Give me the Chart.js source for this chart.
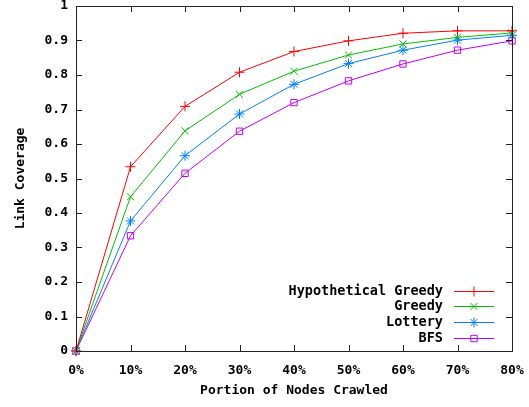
<!DOCTYPE html>
<html>
<head>
<meta charset="utf-8">
<script src="https://cdn.jsdelivr.net/npm/chart.js@4.4.0/dist/chart.umd.min.js"></script>
<style>
html,body{margin:0;padding:0;background:#fff;}
#wrap{width:529px;height:407px;position:relative;}
</style>
</head>
<body>
<div id="wrap"><canvas id="c" width="529" height="407"></canvas></div>
<script>
const categories = ["0%","10%","20%","30%","40%","50%","60%","70%","80%"];
const hypotheticalGreedy = [0, 0.534, 0.709, 0.808, 0.868, 0.899, 0.921, 0.928, 0.928];
const greedy = [0, 0.447, 0.638, 0.744, 0.811, 0.858, 0.890, 0.909, 0.922];
const lottery = [0, 0.377, 0.566, 0.687, 0.773, 0.833, 0.872, 0.901, 0.915];
const bfs = [0, 0.334, 0.515, 0.637, 0.720, 0.783, 0.832, 0.872, 0.899];
const seriesNames = ["Hypothetical Greedy","Greedy","Lottery","BFS"];
const yTitle = "Link Coverage";
const xTitle = "Portion of Nodes Crawled";

const FONT = '"DejaVu Sans Mono", "Liberation Mono", monospace';
const colors = ["#ff0000","#00c000","#0080ff","#c000ff"];
const pstyles = ["cross","crossRot","star","rect"];
const radii = [5,5,5,4.5];
const seriesData = [hypotheticalGreedy, greedy, lottery, bfs];

const datasets = seriesData.map((d,i)=>({
  label: seriesNames[i],
  data: d,
  borderColor: colors[i],
  backgroundColor: 'rgba(0,0,0,0)',
  borderWidth: 1,
  pointStyle: pstyles[i],
  pointRadius: radii[i],
  pointBorderColor: colors[i],
  pointBackgroundColor: 'rgba(0,0,0,0)',
  pointBorderWidth: 1,
  tension: 0,
  clip: false
}));

const frame = {
  id: 'frame',
  afterDraw(chart){
    const ctx = chart.ctx, a = chart.chartArea;
    const xs = chart.scales.x, ys = chart.scales.y;
    ctx.save();
    ctx.strokeStyle = '#222';
    ctx.lineWidth = 1;
    ctx.beginPath();
    for (let i=0;i<categories.length;i++){
      const x = Math.round(xs.getPixelForValue(i))+0.5;
      ctx.moveTo(x, a.bottom); ctx.lineTo(x, a.bottom-6);
      ctx.moveTo(x, a.top); ctx.lineTo(x, a.top+6);
    }
    ys.ticks.forEach(t=>{
      const y = Math.round(ys.getPixelForValue(t.value))+0.5;
      ctx.moveTo(a.left, y); ctx.lineTo(a.left+6, y);
      ctx.moveTo(a.right, y); ctx.lineTo(a.right-6, y);
    });
    ctx.stroke();
    ctx.strokeRect(Math.round(a.left)+0.5, Math.round(a.top)+0.5, Math.round(a.right-a.left), Math.round(a.bottom-a.top));
    const offs = [60, 45, 29, 13];
    ctx.font = 'bold 13.5px ' + FONT;
    ctx.textAlign = 'right';
    ctx.textBaseline = 'middle';
    chart.data.datasets.forEach((ds,i)=>{
      const y = Math.round(a.bottom - offs[i]) + 0.5;
      ctx.fillStyle = '#000';
      ctx.fillText(ds.label, a.right - 69, y);
      ctx.strokeStyle = ds.borderColor;
      ctx.beginPath();
      ctx.moveTo(a.right-58, y); ctx.lineTo(a.right-18, y);
      ctx.stroke();
      ctx.fillStyle = 'rgba(0,0,0,0)';
      if (Chart.helpers && Chart.helpers.drawPoint){
        Chart.helpers.drawPoint(ctx, {pointStyle: ds.pointStyle, radius: ds.pointRadius, rotation:0, borderWidth:1}, a.right-38, y);
      }
    });
    ctx.restore();
  }
};

new Chart(document.getElementById('c'), {
  type: 'line',
  data: { labels: categories, datasets },
  options: {
    responsive: false,
    animation: false,
    layout: { padding: { top: 6, right: 17, left: 0, bottom: 0 } },
    plugins: { legend: { display: false }, tooltip: { enabled: false } },
    scales: {
      x: {
        type: 'category',
        offset: false,
        grid: { display: false, drawTicks: false },
        border: { display: false },
        ticks: { color: '#000', font: { family: FONT, weight: 'bold', size: 13 }, padding: 12, maxRotation: 0, autoSkip: false },
        title: { display: true, text: xTitle, color: '#000', font: { family: FONT, weight: 'bold', size: 13 }, padding: { top: 6, bottom: 9 } },
        afterFit(s){ s.height = 56; s.paddingLeft = 0; s.paddingRight = 0; }
      },
      y: {
        min: 0, max: 1,
        grid: { display: false, drawTicks: false },
        border: { display: false },
        ticks: { stepSize: 0.1, color: '#000', font: { family: FONT, weight: 'bold', size: 13 }, padding: 8,
          callback: v => String(Number(v.toFixed(1))) },
        title: { display: true, text: yTitle, color: '#000', font: { family: FONT, weight: 'bold', size: 13 }, padding: { top: 13, bottom: 6 } },
        afterFit(s){ s.width = 76; s.paddingTop = 0; s.paddingBottom = 0; }
      }
    }
  },
  plugins: [frame]
});
</script>
</body>
</html>
